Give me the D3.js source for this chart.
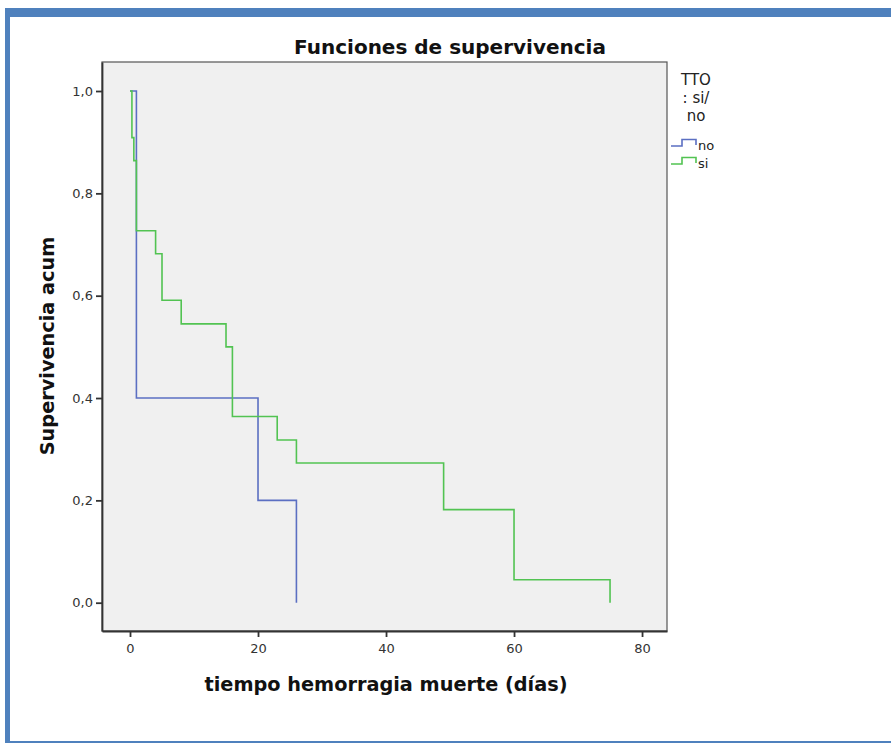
<!DOCTYPE html>
<html>
<head>
<meta charset="utf-8">
<script src="https://cdn.jsdelivr.net/npm/d3@7"></script>
<style>
  html, body { margin: 0; padding: 0; background: #ffffff; }
  svg { display: block; }
</style>
</head>
<body>
<svg id="chart" width="891" height="743"></svg>
<script>
// ---- data ----
const seriesNames = ["no", "si"];
const noTimes = [0, 1, 20, 26];
const noSurv  = [1.0, 0.4, 0.2, 0.0];
const siTimes = [0, 0.3, 0.6, 1, 4, 5, 8, 15, 16, 23, 26, 49, 60, 75];
const siSurv  = [1.0, 0.909, 0.864, 0.727, 0.682, 0.591, 0.545, 0.5, 0.364, 0.318, 0.273, 0.182, 0.045, 0.0];
const xTicks = [0, 20, 40, 60, 80];
const yTicks = [0.0, 0.2, 0.4, 0.6, 0.8, 1.0];
const yTickLabels = ["0,0", "0,2", "0,4", "0,6", "0,8", "1,0"];
const titleText = "Funciones de supervivencia";
const xLabel = "tiempo hemorragia muerte (días)";
const yLabel = "Supervivencia acum";
const legendTitle = ["TTO", ": si/", "no"];

// ---- layout ----
const svg = d3.select("#chart");
const plot = { left: 102, right: 667, top: 62, bottom: 631 };
const colors = { no: "#5b6fc2", si: "#52c352" };
const font = "'DejaVu Sans', 'Open Sans', sans-serif";

// page frame (blue border)
svg.append("rect").attr("x", 5).attr("y", 8).attr("width", 886).attr("height", 9).attr("fill", "#4f81bd");
svg.append("rect").attr("x", 5).attr("y", 8).attr("width", 5).attr("height", 735).attr("fill", "#4f81bd");
svg.append("rect").attr("x", 5).attr("y", 741).attr("width", 886).attr("height", 2).attr("fill", "#4f81bd");

const x = d3.scaleLinear().domain([-4.375, 83.9]).range([plot.left, plot.right]);
const y = d3.scaleLinear().domain([-0.0553, 1.0567]).range([plot.bottom, plot.top]);

// plot background
svg.append("rect")
  .attr("x", plot.left).attr("y", plot.top)
  .attr("width", plot.right - plot.left).attr("height", plot.bottom - plot.top)
  .attr("fill", "#f0f0f0").attr("stroke", "#555").attr("stroke-width", 1.2);

// axes
const yAxis = d3.axisLeft(y).tickValues(yTicks).tickSize(6).tickSizeOuter(0).tickPadding(3)
  .tickFormat((d, i) => yTickLabels[i]);
const gy = svg.append("g").attr("transform", `translate(${plot.left},0)`).call(yAxis);
const xAxis = d3.axisBottom(x).tickValues(xTicks).tickSize(6).tickSizeOuter(0).tickPadding(7);
const gx = svg.append("g").attr("transform", `translate(0,${plot.bottom})`).call(xAxis);
[gx, gy].forEach(g => {
  g.select(".domain").attr("stroke", "#333").attr("stroke-width", 1.8);
  g.selectAll(".tick line").attr("stroke", "#333").attr("stroke-width", 1.8);
  g.selectAll(".tick text").attr("fill", "#333").style("font-family", font).style("font-size", "13px");
});

// survival curves
const line = d3.line().x(d => x(d[0])).y(d => y(d[1])).curve(d3.curveStepAfter);
const series = [
  { name: "no", pts: noTimes.map((t, i) => [t, noSurv[i]]) },
  { name: "si", pts: siTimes.map((t, i) => [t, siSurv[i]]) }
];
svg.append("g").selectAll("path").data(series).join("path")
  .attr("d", d => line(d.pts))
  .attr("fill", "none")
  .attr("stroke", d => colors[d.name])
  .attr("stroke-width", 1.6)
  .attr("stroke-linejoin", "miter");

// title
svg.append("text").attr("x", 450).attr("y", 54).attr("text-anchor", "middle")
  .style("font-family", font).style("font-weight", "bold").style("font-size", "20px")
  .attr("fill", "#111").text(titleText);

// axis labels
svg.append("text").attr("x", 386).attr("y", 691).attr("text-anchor", "middle")
  .style("font-family", font).style("font-weight", "bold").style("font-size", "19.3px")
  .attr("fill", "#111").text(xLabel);
svg.append("text").attr("transform", "translate(54,346) rotate(-90)").attr("text-anchor", "middle")
  .style("font-family", font).style("font-weight", "bold").style("font-size", "19.3px")
  .attr("fill", "#111").text(yLabel);

// legend
const lg = svg.append("g");
legendTitle.forEach((t, i) => {
  lg.append("text").attr("x", 696).attr("y", 85 + i * 18).attr("text-anchor", "middle")
    .style("font-family", font).style("font-size", "15px").attr("fill", "#222").text(t);
});
seriesNames.forEach((n, i) => {
  const yb = 146 + i * 18;
  lg.append("path")
    .attr("d", `M671,${yb} H682 V${yb - 6.5} H696 V${yb - 1}`)
    .attr("fill", "none").attr("stroke", colors[n]).attr("stroke-width", 1.6);
  lg.append("text").attr("x", 698).attr("y", yb + 4)
    .style("font-family", font).style("font-size", "13px").attr("fill", "#222").text(n);
});
</script>
</body>
</html>
